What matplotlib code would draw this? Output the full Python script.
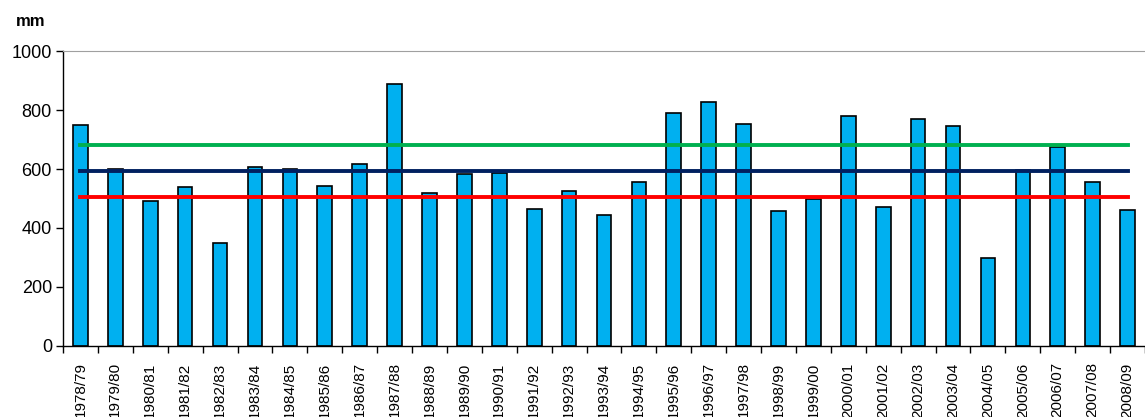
import numpy as np
import matplotlib.pyplot as plt
from matplotlib.ticker import FixedLocator

plt.rcParams['font.family'] = ['Liberation Sans', 'DejaVu Sans']

# Hydrological years and annual precipitation (mm)
seasons = ['1978/79', '1979/80', '1980/81', '1981/82', '1982/83', '1983/84',
           '1984/85', '1985/86', '1986/87', '1987/88', '1988/89', '1989/90',
           '1990/91', '1991/92', '1992/93', '1993/94', '1994/95', '1995/96',
           '1996/97', '1997/98', '1998/99', '1999/00', '2000/01', '2001/02',
           '2002/03', '2003/04', '2004/05', '2005/06', '2006/07', '2007/08',
           '2008/09']
precip = [749, 600, 491, 540, 348, 608, 599, 543, 617, 889, 518, 582, 585,
          465, 525, 445, 557, 791, 829, 752, 456, 500, 781, 472, 769, 747,
          297, 598, 675, 556, 462]

# Reference levels
upper_level = 681
mean_level = 592
lower_level = 504

fig = plt.figure(figsize=(11.45, 4.17), dpi=100)
ax = fig.add_axes([63 / 1145, 1 - 345.7 / 417, 1 - 63 / 1145, 294.4 / 417])

x = np.arange(len(seasons))
ax.bar(x, precip, width=0.42, color='#00B0F0', edgecolor='black', linewidth=1.2, zorder=2)

ax.plot([x[0], x[-1]], [upper_level] * 2, color='#00B050', lw=2.8, zorder=3)
ax.plot([x[0], x[-1]], [mean_level] * 2, color='#002060', lw=2.8, zorder=3)
ax.plot([x[0], x[-1]], [lower_level] * 2, color='#FF0000', lw=2.8, zorder=3)

ax.set_xlim(-0.5, len(seasons) - 0.5)
ax.set_ylim(0, 1000)
ax.set_yticks(range(0, 1001, 200))
ax.tick_params(axis='y', direction='out', length=5, width=1, labelsize=13, pad=3)

ax.set_xticks(x)
ax.set_xticklabels(seasons, rotation=90, fontsize=11)
ax.tick_params(axis='x', which='major', length=0, pad=12)
ax.xaxis.set_minor_locator(FixedLocator(np.arange(len(seasons) + 1) - 0.5))
ax.tick_params(axis='x', which='minor', direction='out', length=5, width=1)

ax.spines['top'].set_color('#A0A0A0')
ax.spines['right'].set_visible(False)
ax.spines['left'].set_linewidth(1)
ax.spines['bottom'].set_linewidth(1)

fig.text(16 / 1145, 1 - 22 / 417, 'mm', fontsize=12, fontweight='bold', va='center')

fig.savefig('out.png', dpi=100)
